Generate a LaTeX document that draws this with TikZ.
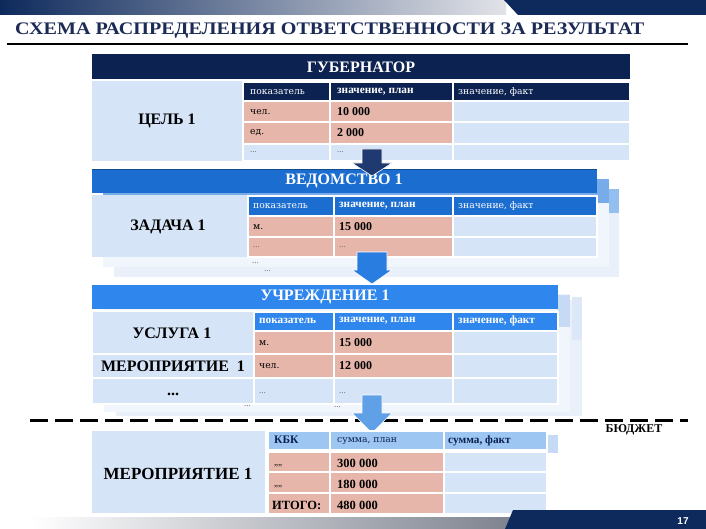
\documentclass[tikz,border=0pt]{standalone}
\usepackage{fontspec}
\setmainfont{Liberation Serif}
\newfontfamily\sansf{Liberation Sans}
\newfontfamily\smf{DejaVu Serif}
\definecolor{navy}{HTML}{0C2250}
\definecolor{banner}{HTML}{0E2A5C}
\definecolor{bannerlight}{HTML}{E2E3E8}
\definecolor{titlec}{HTML}{1B2B55}
\definecolor{blueA}{HTML}{1B6DD0}
\definecolor{blueB}{HTML}{2F86EC}
\definecolor{blueC}{HTML}{9EC6F2}
\definecolor{bodyc}{HTML}{D6E4F8}
\definecolor{pinkc}{HTML}{E6B6AA}
\definecolor{arrowA}{HTML}{1F3A70}
\definecolor{arrowB}{HTML}{2A7DE0}
\definecolor{arrowC}{HTML}{5FA0E6}
\definecolor{shadowA}{HTML}{F1F5FC}
\definecolor{shadowB}{HTML}{E9F0FA}
\definecolor{tabA}{HTML}{78ABEA}
\definecolor{tabB}{HTML}{93BEF0}
\definecolor{tabC}{HTML}{C6DAF5}
\definecolor{tabD}{HTML}{DCE7F8}
\definecolor{dotc}{HTML}{6A6A6A}
\definecolor{greyband}{HTML}{7E838F}
\definecolor{vedline}{HTML}{0F4C8C}
\tikzset{
  cell/.style={draw=white, line width=1.1pt},
  hdr/.style={text=white, inner sep=0, font=\bfseries\fontsize{16}{19}\selectfont},
  big/.style={inner sep=0, font=\bfseries\fontsize{16}{19}\selectfont},
  sm/.style={anchor=west, inner sep=0, font=\smf\fontsize{9.2}{11}\selectfont},
  smb/.style={anchor=west, inner sep=0, font=\bfseries\fontsize{11.3}{13}\selectfont},
  num/.style={anchor=west, inner sep=0, font=\bfseries\fontsize{12}{14}\selectfont},
  bnum/.style={anchor=west, inner sep=0, font=\bfseries\fontsize{12.5}{14}\selectfont},
  dots/.style={anchor=west, inner sep=0, text=dotc, font=\fontsize{9}{10}\selectfont},
}
\begin{document}
\begin{tikzpicture}[x=1pt,y=-1pt]
\useasboundingbox (0,0) rectangle (706,529);
\fill[white] (0,0) rectangle (706,529);

% top banner
\shade[left color=banner, right color=bannerlight] (0,0) rectangle (506,15);
\fill[banner] (504,0) -- (706,0) -- (706,15) -- (518,15) -- cycle;

% title
\node[anchor=base west, inner sep=0, text=titlec] (title) at (15,35)
  {\resizebox{629pt}{11.7pt}{\bfseries СХЕМА РАСПРЕДЕЛЕНИЯ ОТВЕТСТВЕННОСТИ ЗА РЕЗУЛЬТАТ}};
\draw[line width=2pt] (7,44.5) -- (688,44.5);

% ================= GOVERNOR =================
\fill[navy] (92,54) rectangle (630,79);
\node[hdr] (gov) at (361,67) {ГУБЕРНАТОР};
\fill[bodyc] (92,81) rectangle (630,161);
\path[cell, fill=navy] (243,82) rectangle (330,101);
\path[cell, fill=navy] (330,82) rectangle (453,101);
\path[cell, fill=navy] (453,82) rectangle (630,101);
\path[cell, fill=pinkc] (243,101) rectangle (330,122);
\path[cell, fill=pinkc] (330,101) rectangle (453,122);
\path[cell, fill=bodyc] (453,101) rectangle (630,122);
\path[cell, fill=pinkc] (243,122) rectangle (330,144);
\path[cell, fill=pinkc] (330,122) rectangle (453,144);
\path[cell, fill=bodyc] (453,122) rectangle (630,144);
\path[cell, fill=bodyc] (243,144) rectangle (330,161);
\path[cell, fill=bodyc] (330,144) rectangle (453,161);
\path[cell, fill=bodyc] (453,144) rectangle (630,161);
\node[big] (goal) at (167,121) {ЦЕЛЬ 1};
\node[sm, text=white] (g11) at (250,92) {показатель};
\node[smb, text=white] (g12) at (337,92) {значение, план};
\node[sm, text=white] (g13) at (458,92) {значение, факт};
\node[sm] (g21) at (250,112) {чел.};
\node[num] (g22) at (337,112) {10 000};
\node[sm] (g31) at (250,133) {ед.};
\node[num] (g32) at (337,133) {2 000};
\node[dots] (g41) at (250,152) {...};
\node[dots] (g42) at (337,152) {...};

% ================= VEDOMSTVO =================
\fill[shadowB] (114,189) rectangle (619,277);
\fill[tabB] (114,189) rectangle (619,213);
\fill[shadowA] (103,179) rectangle (609,267);
\fill[tabA] (103,179) rectangle (609,203);
\node[dots] (vs1) at (252,263) {...};
\node[dots] (vs2) at (264,271) {...};
\fill[blueA] (92,169) rectangle (597,193);
\draw[vedline, line width=0.8pt] (92,169.4) -- (597,169.4);
\node[hdr] (ved) at (344,181) {ВЕДОМСТВО 1};
\fill[bodyc] (92,195) rectangle (597,257);
\path[cell, fill=blueA] (248,196) rectangle (334,216);
\path[cell, fill=blueA] (334,196) rectangle (453,216);
\path[cell, fill=blueA] (453,196) rectangle (597,216);
\path[cell, fill=pinkc] (248,216) rectangle (334,237);
\path[cell, fill=pinkc] (334,216) rectangle (453,237);
\path[cell, fill=bodyc] (453,216) rectangle (597,237);
\path[cell, fill=pinkc] (248,237) rectangle (334,257);
\path[cell, fill=pinkc] (334,237) rectangle (453,257);
\path[cell, fill=bodyc] (453,237) rectangle (597,257);
\node[big] (task) at (168,227) {ЗАДАЧА 1};
\node[sm, text=white] (v11) at (253,206) {показатель};
\node[smb, text=white] (v12) at (339,206) {значение, план};
\node[sm, text=white] (v13) at (458,206) {значение, факт};
\node[sm] (v21) at (253,227) {м.};
\node[num] (v22) at (339,227) {15 000};
\node[dots] (v31) at (253,247) {...};
\node[dots] (v32) at (339,247) {...};

% arrow governor -> vedomstvo
\fill[arrowA, draw=white, line width=0.6pt] (362,149) -- (382,149) -- (382,163) -- (392,163) -- (372,176) -- (352,163) -- (362,163) -- cycle;

% ================= UCHREZHDENIE =================
\fill[shadowB] (116,300) rectangle (582,416);
\fill[tabD] (572,297) rectangle (582,340);
\fill[shadowA] (104,294) rectangle (570,412);
\fill[tabC] (558,295) rectangle (570,327);
\node[dots] (us1) at (244,406) {...};
\node[dots] (us2) at (334,407) {...};
\fill[blueB] (92,285) rectangle (558,309);
\node[hdr] (uch) at (325,297) {УЧРЕЖДЕНИЕ 1};
\path[cell, fill=bodyc] (92,311) rectangle (254,354);
\path[cell, fill=bodyc] (92,354) rectangle (254,378);
\path[cell, fill=bodyc] (92,378) rectangle (254,404);
\path[cell, fill=blueB] (254,312) rectangle (334,331);
\path[cell, fill=blueB] (334,312) rectangle (453,331);
\path[cell, fill=blueB] (453,312) rectangle (558,331);
\path[cell, fill=pinkc] (254,331) rectangle (334,354);
\path[cell, fill=pinkc] (334,331) rectangle (453,354);
\path[cell, fill=bodyc] (453,331) rectangle (558,354);
\path[cell, fill=pinkc] (254,354) rectangle (334,378);
\path[cell, fill=pinkc] (334,354) rectangle (453,378);
\path[cell, fill=bodyc] (453,354) rectangle (558,378);
\path[cell, fill=bodyc] (254,378) rectangle (334,404);
\path[cell, fill=bodyc] (334,378) rectangle (453,404);
\path[cell, fill=bodyc] (453,378) rectangle (558,404);
\node[big] (serv) at (172,333) {УСЛУГА 1};
\node[big] (ev1) at (173,366) {МЕРОПРИЯТИЕ\ \ 1};
\node[big] (evd) at (173,394) {...};
\node[smb, text=white] (u11) at (259,321) {показатель};
\node[smb, text=white] (u12) at (339,321) {значение, план};
\node[smb, text=white] (u13) at (458,321) {значение, факт};
\node[sm] (u21) at (259,343) {м.};
\node[num] (u22) at (339,343) {15 000};
\node[sm] (u31) at (259,366) {чел.};
\node[num] (u32) at (339,366) {12 000};
\node[dots] (u41) at (259,393) {...};
\node[dots] (u42) at (339,393) {...};

% arrow vedomstvo -> uchrezhdenie
\fill[arrowB, draw=white, line width=0.6pt] (357,252) -- (387,252) -- (387,270) -- (392,270) -- (372,284) -- (352,270) -- (357,270) -- cycle;

% dashed budget line
\draw[line width=3pt, dash pattern=on 18pt off 7pt] (30,420) -- (688,420);
\node[inner sep=0, font=\bfseries\fontsize{12}{14}\selectfont] (budget) at (634,430) {БЮДЖЕТ};

% arrow uchrezhdenie -> budget
\fill[arrowC, draw=white, line width=0.6pt] (362,395) -- (382,395) -- (382,413) -- (392,413) -- (372,433) -- (352,413) -- (362,413) -- cycle;

% ================= BUDGET =================
\fill[tabC] (547,435) rectangle (558,453);
\fill[bodyc] (92,431) rectangle (265,513);
\path[cell, fill=blueC] (268,431) rectangle (330,450);
\path[cell, fill=blueC] (330,431) rectangle (444,450);
\path[cell, fill=blueC] (444,431) rectangle (547,450);
\path[cell, fill=pinkc] (268,452) rectangle (330,472);
\path[cell, fill=pinkc] (330,452) rectangle (444,472);
\path[cell, fill=bodyc] (444,452) rectangle (547,472);
\path[cell, fill=pinkc] (268,472) rectangle (330,493);
\path[cell, fill=pinkc] (330,472) rectangle (444,493);
\path[cell, fill=bodyc] (444,472) rectangle (547,493);
\path[cell, fill=pinkc] (268,493) rectangle (330,514);
\path[cell, fill=pinkc] (330,493) rectangle (444,514);
\path[cell, fill=bodyc] (444,493) rectangle (547,514);
\node[inner sep=0, font=\bfseries\fontsize{17}{20}\selectfont] (ev2) at (178,474) {МЕРОПРИЯТИЕ 1};
\node[num, text=navy, font=\bfseries\fontsize{11.5}{13}\selectfont] (b11) at (274,440) {КБК};
\node[sm, text=navy] (b12) at (337,441) {сумма, план};
\node[smb, text=navy] (b13) at (448,441) {сумма, факт};
\node[dots, text=black] (b21) at (274,466) {,,,,};
\node[bnum] (b22) at (337,463) {300 000};
\node[dots, text=black] (b31) at (274,487) {,,,,};
\node[bnum] (b32) at (337,484) {180 000};
\node[bnum] (b41) at (272,505) {ИТОГО:};
\node[bnum] (b42) at (337,505) {480 000};

% bottom band
\shade[left color=white, right color=greyband] (30,517) rectangle (512,529);
\fill[banner] (513,510) -- (706,510) -- (706,529) -- (505,529) -- cycle;
\node[inner sep=0, text=white, font=\sansf\bfseries\fontsize{10}{12}\selectfont] (page) at (683,521) {17};
\end{tikzpicture}
\end{document}
